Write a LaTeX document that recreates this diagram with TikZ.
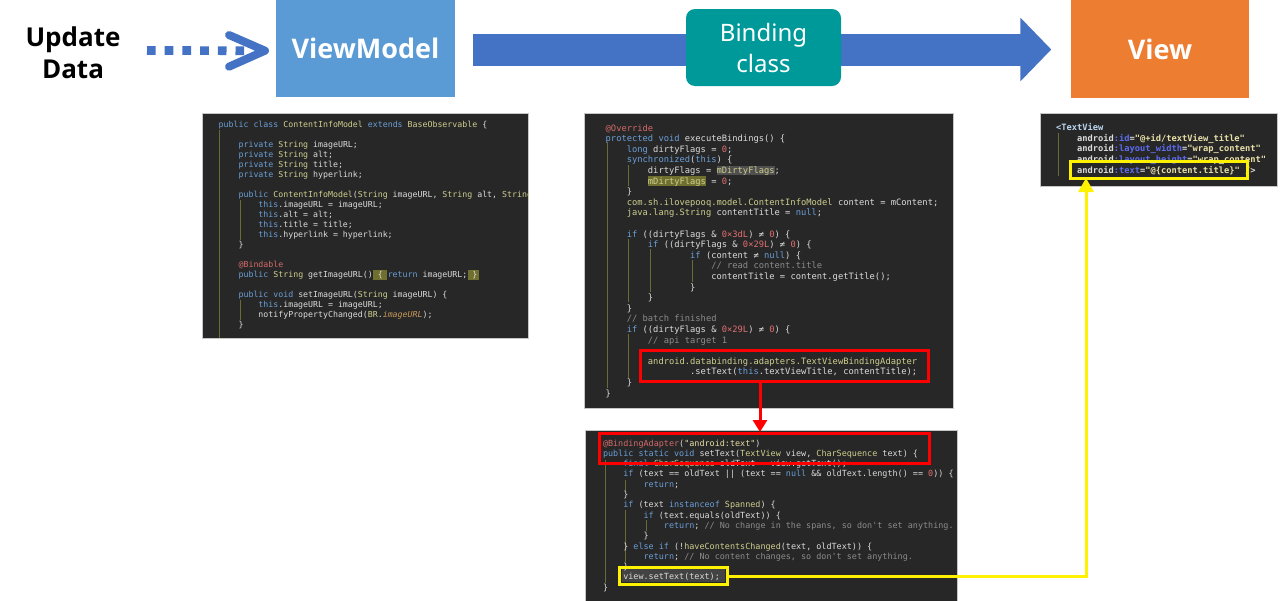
\documentclass[tikz,border=0pt]{standalone}
\usepackage{fontspec}
\usetikzlibrary{arrows.meta}
\newfontfamily\hdr{Noto Sans}
\newfontfamily\hdrb{Open Sans}
\newfontfamily\code{DejaVu Sans Mono}
\definecolor{vmblue}{HTML}{5B9BD5}
\definecolor{arrowblue}{HTML}{4472C4}
\definecolor{tealbox}{HTML}{009999}
\definecolor{viewor}{HTML}{ED7D31}
\definecolor{panelbg}{HTML}{272727}
\definecolor{ckw}{HTML}{6A9FD8}
\definecolor{ctype}{HTML}{CFCF8F}
\definecolor{cid}{HTML}{DCDCDC}
\definecolor{cann}{HTML}{D46A6A}
\definecolor{cnum}{HTML}{E07070}
\definecolor{ccom}{HTML}{8C8C8C}
\definecolor{cstr}{HTML}{E8E0A8}
\definecolor{cattr}{HTML}{5C6CF0}
\definecolor{cfld}{HTML}{C99A5A}
\definecolor{ctag}{HTML}{BBD7F0}
\definecolor{guide}{HTML}{6B6B35}
\definecolor{hlol}{HTML}{6F6F30}
\definecolor{hlgr}{HTML}{4F4F4F}
\newcommand\cK[1]{\textcolor{ckw}{#1}}
\newcommand\cT[1]{\textcolor{ctype}{#1}}
\newcommand\cA[1]{\textcolor{cann}{#1}}
\newcommand\cN[1]{\textcolor{cnum}{#1}}
\newcommand\cC[1]{\textcolor{ccom}{#1}}
\newcommand\cS[1]{\textcolor{cstr}{#1}}
\newcommand\PA[3]{\node[ct,font=\code\fontsize{8.26}{10}\selectfont] (pa#2) at ({218.7+#1*4.97},{127+#2*10}) {#3};}
\newcommand\PB[3]{\node[ct,font=\code\fontsize{8.77}{10}\selectfont] (pb#2) at ({605.7+#1*5.28},{131+#2*10.6}) {#3};}
\newcommand\PC[3]{\node[ct,font=\code\fontsize{8.44}{10}\selectfont] (pc#2) at ({603+#1*5.08},{446+#2*10.3}) {#3};}
\newcommand\PD[3]{\node[ct,font=\code\bfseries\fontsize{8.72}{10}\selectfont] (pd#2) at ({1056+#1*5.25},{130.6+#2*10.6}) {#3};}
\begin{document}
\begin{tikzpicture}[x=1pt,y=-1pt,
  ct/.style={anchor=base west, inner sep=0, outer sep=0, text=cid},
  panel/.style={fill=panelbg, draw=gray!45, line width=0.6},
  guideline/.style={draw=guide, line width=1},
  redbox/.style={draw=red, line width=3, inner sep=0},
  ylbox/.style={draw=yellow, line width=3, inner sep=0},
  hdrbox/.style={inner sep=0, text=white, align=center}]
\useasboundingbox (0,0) rectangle (1280,600);
\fill[white] (0,0) rectangle (1280,600);

% ---------- header ----------
\node[align=center, font=\hdrb\bfseries\fontsize{26}{32}\selectfont, inner sep=0] (upd) at (73,53) {Update\\Data};
\node[hdrbox, fill=vmblue, minimum width=179, minimum height=97, font=\hdrb\bfseries\fontsize{27}{32}\selectfont] (vm) at (365.5,48.5) {ViewModel};
\node[hdrbox, fill=viewor, minimum width=178, minimum height=98, font=\hdrb\bfseries\fontsize{27}{32}\selectfont] (view) at (1160,49) {View};
\coordinate (dstart) at (147,50.5);
\coordinate (dtip) at (265,50.7);
\draw[arrowblue, line width=8.7, dash pattern=on 8.7 off 9] (dstart) -- ([xshift=-19]dtip);
\draw[arrowblue, line width=8, line cap=round, line join=round] ([shift={(-36,-15.7)}]dtip) -- (dtip) -- ([shift={(-36,16)}]dtip);
\draw[arrowblue, line width=32, -{Triangle[length=31pt,width=62pt]}] ([xshift=18]vm.east |- 0,49.5) -- ([xshift=-19.5]view.west |- 0,49.5);
\node[hdrbox, fill=tealbox, rounded corners=9, minimum width=155, minimum height=77, font=\hdr\fontsize{24}{31}\selectfont] (bind) at (763.5,47.5) {Binding\\class};

% ---------- panel 1 ----------
\path[panel] (202,113) rectangle (528,338);
\begin{scope}
\clip (202,113) rectangle (528,338);
\draw[guideline] (219,130) -- (219,338);
\draw[guideline] (240,200) -- (240,240);
\draw[guideline] (240,300) -- (240,320);
\fill[hlol] (372.5,269.5) rectangle (386.5,279.5);
\fill[hlol] (467.5,269.5) rectangle (479,279.5);
\PA{0}{0}{\cK{public class} \cT{ContentInfoModel} \cK{extends} \cT{BaseObservable} \{}
\PA{4}{2}{\cK{private} \cT{String} imageURL;}
\PA{4}{3}{\cK{private} \cT{String} alt;}
\PA{4}{4}{\cK{private} \cT{String} title;}
\PA{4}{5}{\cK{private} \cT{String} hyperlink;}
\PA{4}{7}{\cK{public} \cT{ContentInfoModel}(\cT{String} imageURL, \cT{String} alt, \cT{String} title, \cT{String} hyperlink) \{}
\PA{8}{8}{\cK{this}.imageURL = imageURL;}
\PA{8}{9}{\cK{this}.alt = alt;}
\PA{8}{10}{\cK{this}.title = title;}
\PA{8}{11}{\cK{this}.hyperlink = hyperlink;}
\PA{4}{12}{\}}
\PA{4}{14}{\cA{@Bindable}}
\PA{4}{15}{\cK{public} \cT{String} getImageURL() \{ \cK{return} imageURL; \}}
\PA{4}{17}{\cK{public void} setImageURL(\cT{String} imageURL) \{}
\PA{8}{18}{\cK{this}.imageURL = imageURL;}
\PA{8}{19}{notifyPropertyChanged(\cT{BR}.\textcolor{cfld}{\itshape imageURL});}
\PA{4}{20}{\}}
\end{scope}

% ---------- panel 2 ----------
\path[panel] (584,113) rectangle (953,408);
\begin{scope}
\clip (584,113) rectangle (953,408);
\draw[guideline] (607,142) -- (607,388);
\draw[guideline] (628,165) -- (628,186);
\draw[guideline] (628,239) -- (628,302);
\draw[guideline] (650,249) -- (650,292);
\draw[guideline] (692,260) -- (692,282);
\draw[guideline] (628,334) -- (628,378);
\fill[hlgr] (716.7,165.5) rectangle (774.7,175);
\fill[hlol] (648,176) rectangle (706,185.5);
\PB{0}{0}{\cA{@Override}}
\PB{0}{1}{\cK{protected void} executeBindings() \{}
\PB{4}{2}{\cK{long} dirtyFlags = \cN{0};}
\PB{4}{3}{\cK{synchronized}(\cK{this}) \{}
\PB{8}{4}{dirtyFlags = \cT{mDirtyFlags};}
\PB{8}{5}{\cT{mDirtyFlags} = \cN{0};}
\PB{4}{6}{\}}
\PB{4}{7}{\cT{com.sh.ilovepooq.model.ContentInfoModel} content = mContent;}
\PB{4}{8}{\cT{java.lang.String} contentTitle = \cK{null};}
\PB{4}{10}{\cK{if} ((dirtyFlags \& \cN{0×3dL}) ≠ \cN{0}) \{}
\PB{8}{11}{\cK{if} ((dirtyFlags \& \cN{0×29L}) ≠ \cN{0}) \{}
\PB{16}{12}{\cK{if} (content ≠ \cK{null}) \{}
\PB{20}{13}{\cC{// read content.title}}
\PB{20}{14}{contentTitle = content.getTitle();}
\PB{16}{15}{\}}
\PB{8}{16}{\}}
\PB{4}{17}{\}}
\PB{4}{18}{\cC{// batch finished}}
\PB{4}{19}{\cK{if} ((dirtyFlags \& \cN{0×29L}) ≠ \cN{0}) \{}
\PB{8}{20}{\cC{// api target 1}}
\PB{8}{22}{\cT{android.databinding.adapters.TextViewBindingAdapter}}
\PB{16}{23}{.setText(\cK{this}.textViewTitle, contentTitle);}
\PB{4}{24}{\}}
\PB{0}{25}{\}}
\end{scope}

% ---------- panel 3 ----------
\path[panel] (585,430) rectangle (957,601);
\begin{scope}
\clip (585,430) rectangle (957,600);
\draw[guideline] (605,460) -- (605,583);
\draw[guideline] (625,480) -- (625,491);
\draw[guideline] (625,510) -- (625,562);
\draw[guideline] (646,520) -- (646,531);
\fill[hlgr!70!panelbg] (622,569) rectangle (725,582);
\PC{0}{0}{\cA{@BindingAdapter}(\cS{"android:text"})}
\PC{0}{1}{\cK{public static void} setText(\cT{TextView} view, \cT{CharSequence} text) \{}
\PC{4}{2}{\cK{final} \cT{CharSequence} oldText = view.getText();}
\PC{4}{3}{\cK{if} (text == oldText || (text == \cK{null} \&\& oldText.length() == \cN{0})) \{}
\PC{8}{4}{\cK{return};}
\PC{4}{5}{\}}
\PC{4}{6}{\cK{if} (text \cK{instanceof} \cT{Spanned}) \{}
\PC{8}{7}{\cK{if} (text.equals(oldText)) \{}
\PC{12}{8}{\cK{return}; \cC{// No change in the spans, so don't set anything.}}
\PC{8}{9}{\}}
\PC{4}{10}{\} \cK{else if} (!\cT{haveContentsChanged}(text, oldText)) \{}
\PC{8}{11}{\cK{return}; \cC{// No content changes, so don't set anything.}}
\PC{4}{12}{\}}
\PC{4}{13}{view.setText(text);}
\PC{0}{14}{\}}
\end{scope}

% ---------- panel 4 ----------
\path[panel] (1040,113) rectangle (1277,186);
\begin{scope}
\clip (1040,113) rectangle (1277,186);
\draw[guideline] (1058,133) -- (1058,176);
\PD{0}{0}{\textcolor{ctag}{<TextView}}
\PD{4}{1}{android\textcolor{cattr}{:id}=\cS{"@+id/textView\_title"}}
\PD{4}{2}{android\textcolor{cattr}{:layout\_width}=\cS{"wrap\_content"}}
\PD{4}{3}{android\textcolor{cattr}{:layout\_height}=\cS{"wrap\_content"}}
\PD{4}{4}{android\textcolor{cattr}{:text}=\cS{"@\{content.title\}"} />}
\end{scope}

% ---------- highlight boxes and connectors ----------
\node[redbox, minimum width=288, minimum height=31] (rb1) at (784,365.5) {};
\node[redbox, minimum width=330, minimum height=30] (rb2) at (764,448) {};
\node[ylbox, minimum width=108, minimum height=17] (yb1) at (673.5,576) {};
\node[ylbox, minimum width=177, minimum height=17] (yb2) at (1158.5,170) {};
\coordinate (redx) at (760,0);
\coordinate (ylx) at (1086,0);
\draw[red, line width=3, -{Triangle[length=12pt,width=14pt]}] (rb1.south -| redx) -- ([yshift=-0.5]rb2.north -| redx);
\draw[yellow, line width=3, -{Triangle[length=14pt,width=15pt]}] (yb1.east) -| ([yshift=2]yb2.south -| ylx);
\end{tikzpicture}
\end{document}
